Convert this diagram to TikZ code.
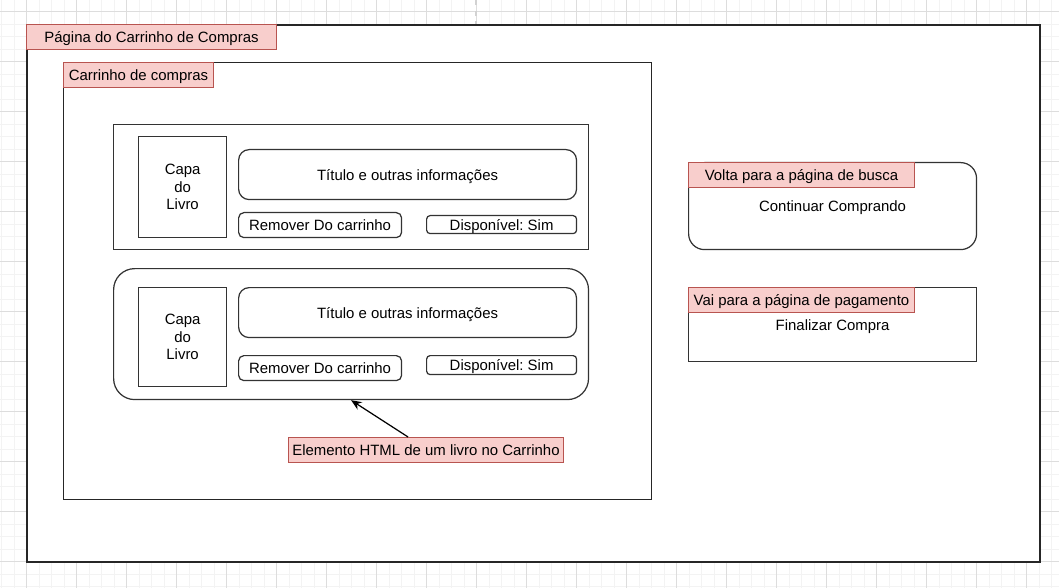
\documentclass[tikz,border=0pt]{standalone}
\usepackage{fontspec}
\setmainfont{Liberation Sans}
\usepackage{tikz}
\usetikzlibrary{arrows.meta,positioning}
\definecolor{tagfill}{HTML}{F8CECC}
\definecolor{tagline}{HTML}{B85450}
\definecolor{gridminor}{HTML}{F3F3F3}
\definecolor{gridmajor}{HTML}{DDDDDD}
\frenchspacing

\begin{document}
\begin{tikzpicture}[x=0.02cm,y=-0.02cm,
    font=\fontsize{8.5}{9.9}\selectfont,
    frame/.style={draw=black!85,fill=white,line width=0.8pt,anchor=north west,inner sep=0pt},
    box/.style={draw=black!80,fill=white,line width=0.7pt,anchor=north west,inner sep=0pt,align=center,text depth=0pt},
    tag/.style={draw=tagline,fill=tagfill,line width=0.6pt,anchor=north west,inner sep=0pt,minimum height=0.5cm,text depth=0pt},
    pointer/.style={-{Stealth[length=6pt,width=5pt]},line width=0.7pt}]
  \useasboundingbox (0,0) rectangle (1059,588);
  % canvas grid
  \foreach \x in {1.7,14.2,...,1059} \draw[gridminor,line width=0.4pt] (\x,0) -- (\x,588);
  \foreach \y in {11.7,24.2,...,588} \draw[gridminor,line width=0.4pt] (0,\y) -- (1059,\y);
  \foreach \x in {26.7,76.7,...,1059} \draw[gridmajor,line width=0.4pt] (\x,0) -- (\x,588);
  \foreach \y in {11.7,61.7,...,588} \draw[gridmajor,line width=0.4pt] (0,\y) -- (1059,\y);
  \draw[gray!35,dashed,line width=0.8pt] (476,0) -- (476,24);

  % page and cart
  \node[frame,line width=1.1pt,minimum width=20.26cm,minimum height=10.74cm] (page) at (26,24) {};
  \node[tag,minimum width=5cm] (pagetag) at (26,24) {Página do Carrinho de Compras};
  \node[frame,minimum width=11.76cm,minimum height=8.74cm] (cart) at (63,62) {};
  \node[tag,minimum width=3cm] (carttag) at (63,62) {Carrinho de compras};

  % first book
  \node[box,minimum width=9.5cm,minimum height=2.5cm] (book1) at (113,124) {};
  \node[box,minimum width=1.76cm,minimum height=2.02cm] (cover1) at (138,136) {Capa\\do\\Livro};
  \node[box,rounded corners=6pt,minimum width=6.76cm,minimum height=1cm] (title1) at (238,149) {Título e outras informações};
  \node[box,rounded corners=3pt,minimum width=3.26cm,minimum height=0.5cm] (remove1) at (238,212) {Remover Do carrinho};
  \node[box,rounded corners=2pt,minimum width=3cm,minimum height=0.36cm] (avail1) at (426,215) {Disponível: Sim};

  % second book
  \node[box,rounded corners=12pt,minimum width=9.5cm,minimum height=2.62cm] (book2) at (113,268) {};
  \node[box,minimum width=1.76cm,minimum height=1.98cm] (cover2) at (138,287) {Capa\\do\\Livro};
  \node[box,rounded corners=6pt,minimum width=6.76cm,minimum height=1cm] (title2) at (238,287) {Título e outras informações};
  \node[box,rounded corners=3pt,minimum width=3.26cm,minimum height=0.5cm] (remove2) at (238,355) {Remover Do carrinho};
  \node[box,rounded corners=2pt,minimum width=3cm,minimum height=0.38cm] (avail2) at (426,355) {Disponível: Sim};

  \node[tag,minimum width=5.5cm] (element) at (288,437) {Elemento HTML de um livro no Carrinho};
  \draw[pointer] (element.144) -- (book2.south);

  % buttons
  \node[box,rounded corners=9pt,minimum width=5.76cm,minimum height=1.74cm] (keepbuying) at (688,162) {Continuar Comprando};
  \node[tag,minimum width=4.52cm] (keeptag) at (688,162) {Volta para a página de busca};
  \node[box,minimum width=5.76cm,minimum height=1.48cm] (checkout) at (688,287) {Finalizar Compra};
  \node[tag,minimum width=4.52cm] (checktag) at (688,287) {Vai para a página de pagamento};
\end{tikzpicture}
\end{document}
